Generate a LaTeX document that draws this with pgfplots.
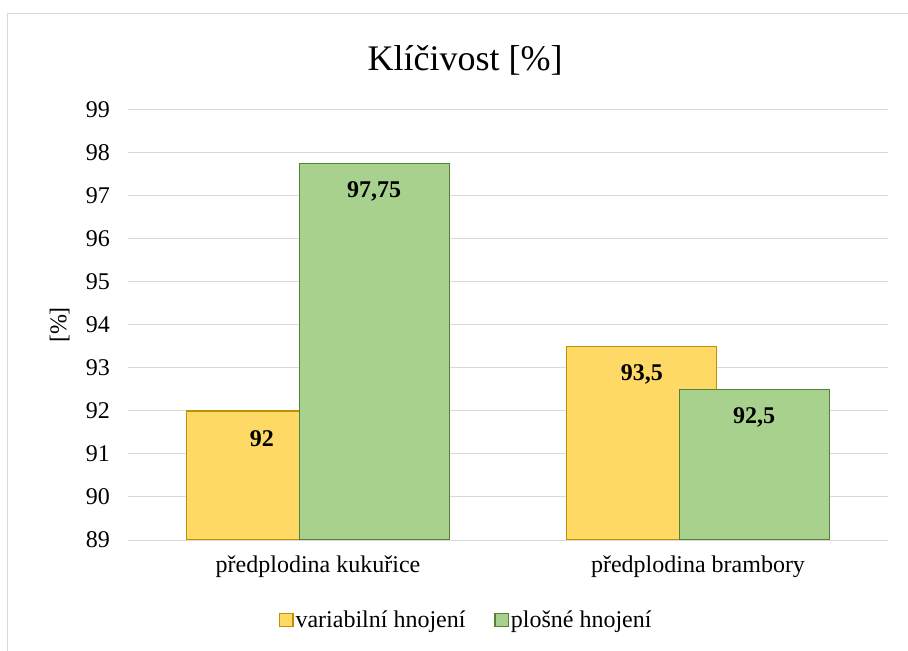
\documentclass[border=0pt]{standalone}
\usepackage{pgfplots}
\pgfplotsset{compat=1.18}
\usepackage{fontspec}
\setmainfont{Liberation Serif}
\definecolor{yfill}{HTML}{FFD966}
\definecolor{ydraw}{HTML}{BF9000}
\definecolor{gfill}{HTML}{A9D18E}
\definecolor{gdraw}{HTML}{548235}
\definecolor{gridc}{HTML}{D9D9D9}
\begin{document}
\begin{tikzpicture}
\useasboundingbox (0,0) rectangle (681bp,488.25bp);
\draw[gridc, line width=0.75bp] (5.25bp,0) -- (5.25bp,477.75bp) -- (681bp,477.75bp);
\node[font=\fontsize{27bp}{32bp}\selectfont] at (348.75bp,443.25bp) {Klíčivost [\%]};
\begin{axis}[
  at={(96bp,83.25bp)}, anchor=south west,
  scale only axis, width=570bp, height=322.5bp,
  ybar,
  xmin=-0.5, xmax=1.5, ymin=89, ymax=99,
  ytick={89,...,99},
  xtick={0,1},
  xticklabels={předplodina kukuřice, předplodina brambory},
  major tick length=0pt,
  axis x line*=bottom, axis y line*=left,
  y axis line style={draw=none},
  x axis line style={draw=gridc, line width=0.75bp},
  ymajorgrids, grid style={gridc, line width=0.75bp},
  /pgf/number format/assume math mode=true,
  /pgf/number format/use comma,
  ticklabel style={font=\fontsize{18bp}{21bp}\selectfont},
  yticklabel style={anchor=east, xshift=-10bp},
  xticklabel style={anchor=north, yshift=-8bp},
  ylabel={[\%]},
  ylabel style={at={(axis description cs:-0.09,0.5)}, anchor=center, font=\fontsize{18bp}{21bp}\selectfont},
  nodes near coords,
  every node near coord/.append style={anchor=center, yshift=-21bp, font=\fontsize{18bp}{21bp}\selectfont\bfseries, /pgf/number format/use comma},
  legend columns=2,
  legend style={at={(axis description cs:0.445,-0.186)}, anchor=center, draw=none, fill=none,
    font=\fontsize{18bp}{21bp}\selectfont,
    /tikz/every even column/.append style={column sep=20bp},
    nodes={inner sep=1.5bp}},
  legend image code/.code={\draw[#1, line width=1bp] (0bp,-5bp) rectangle (10bp,5bp);},
]
\addplot[fill=yfill, draw=ydraw, line width=1bp, bar width=0.395, bar shift=-0.148] coordinates {(0,92) (1,93.5)};
\addplot[fill=gfill, draw=gdraw, line width=1bp, bar width=0.395, bar shift=0.148] coordinates {(0,97.75) (1,92.5)};
\legend{variabilní hnojení, plošné hnojení}
\end{axis}
\end{tikzpicture}
\end{document}
